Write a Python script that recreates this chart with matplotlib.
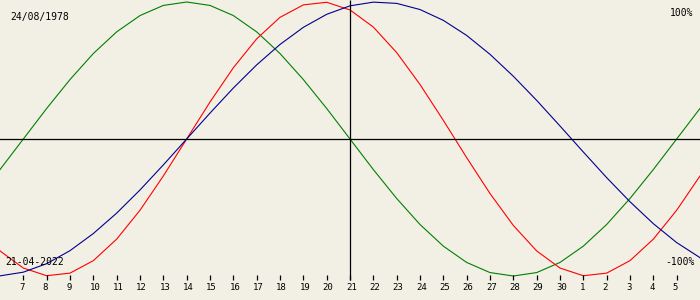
import matplotlib
matplotlib.use("Agg")
from matplotlib import pyplot as plt

# days shown: 6 April .. 6 May (day numbers counted from 1 April, 31+ = May)
days = list(range(6, 37))
tick_days = list(range(7, 36))
tick_labels = [str(d) if d <= 30 else str(d - 30) for d in tick_days]

birth_text = "24/08/1978"
target_text = "21-04-2022"
target_day = 21

# daily values (-1 .. 1)
physical = [-0.817, -0.942, -0.998, -0.979, -0.888, -0.731, -0.520, -0.270,
            0.000, 0.270, 0.520, 0.731, 0.888, 0.979, 0.998, 0.942,
            0.817, 0.631, 0.398, 0.136, -0.136, -0.398, -0.631, -0.817,
            -0.942, -0.998, -0.979, -0.888, -0.731, -0.520, -0.270]
emotional = [-0.223, 0.000, 0.223, 0.434, 0.624, 0.782, 0.901, 0.975,
             1.000, 0.975, 0.901, 0.782, 0.624, 0.434, 0.223, 0.000,
             -0.223, -0.434, -0.624, -0.782, -0.901, -0.975, -1.000, -0.975,
             -0.901, -0.782, -0.624, -0.434, -0.223, 0.000, 0.223]
intellectual = [-0.999, -0.972, -0.910, -0.815, -0.690, -0.541, -0.372, -0.189,
                0.000, 0.189, 0.372, 0.541, 0.690, 0.815, 0.910, 0.972,
                0.999, 0.990, 0.945, 0.866, 0.756, 0.618, 0.458, 0.282,
                0.095, -0.095, -0.282, -0.458, -0.618, -0.756, -0.866]

plt.rcParams['font.family'] = ['DejaVu Sans Mono']

bg = "#f2efe4"
fig = plt.figure(figsize=(7, 3), dpi=100, facecolor=bg)
ax = fig.add_axes([0, 0, 1, 1], facecolor=bg)

# pixel row -> value: zero at row 139, amplitude 137 px
amp = 137.0
ax.set_xlim(6, 36)
ax.set_ylim((139 - 300) / amp, 139 / amp)
ax.axis("off")

ax.plot(days, emotional, color="#008000", lw=0.8)
ax.plot(days, physical, color="#ff0000", lw=0.8)
ax.plot(days, intellectual, color="#000090", lw=0.8)

ax.axhline(0, color="black", lw=0.9)
ax.vlines(target_day, (139 - 280) / amp, 139 / amp, color="black", lw=0.9)

# ticks along the bottom
ax.vlines(tick_days, (139 - 275) / amp, (139 - 280) / amp, color="black", lw=0.9)
for d, lab in zip(tick_days, tick_labels):
    ax.text(d - 0.17, (139 - 288) / amp, lab, fontsize=6.5, ha="left",
            va="center", color="black")

ax.text(10 / 700, 1 - 17 / 300, birth_text, transform=ax.transAxes,
        fontsize=7, ha="left", va="center")
ax.text(5 / 700, 1 - 262 / 300, target_text, transform=ax.transAxes,
        fontsize=7, ha="left", va="center")
ax.text(693 / 700, 1 - 13 / 300, "100%", transform=ax.transAxes,
        fontsize=7, ha="right", va="center")
ax.text(695 / 700, 1 - 262 / 300, "-100%", transform=ax.transAxes,
        fontsize=7, ha="right", va="center")

fig.savefig("out.png", dpi=100, facecolor=bg)
